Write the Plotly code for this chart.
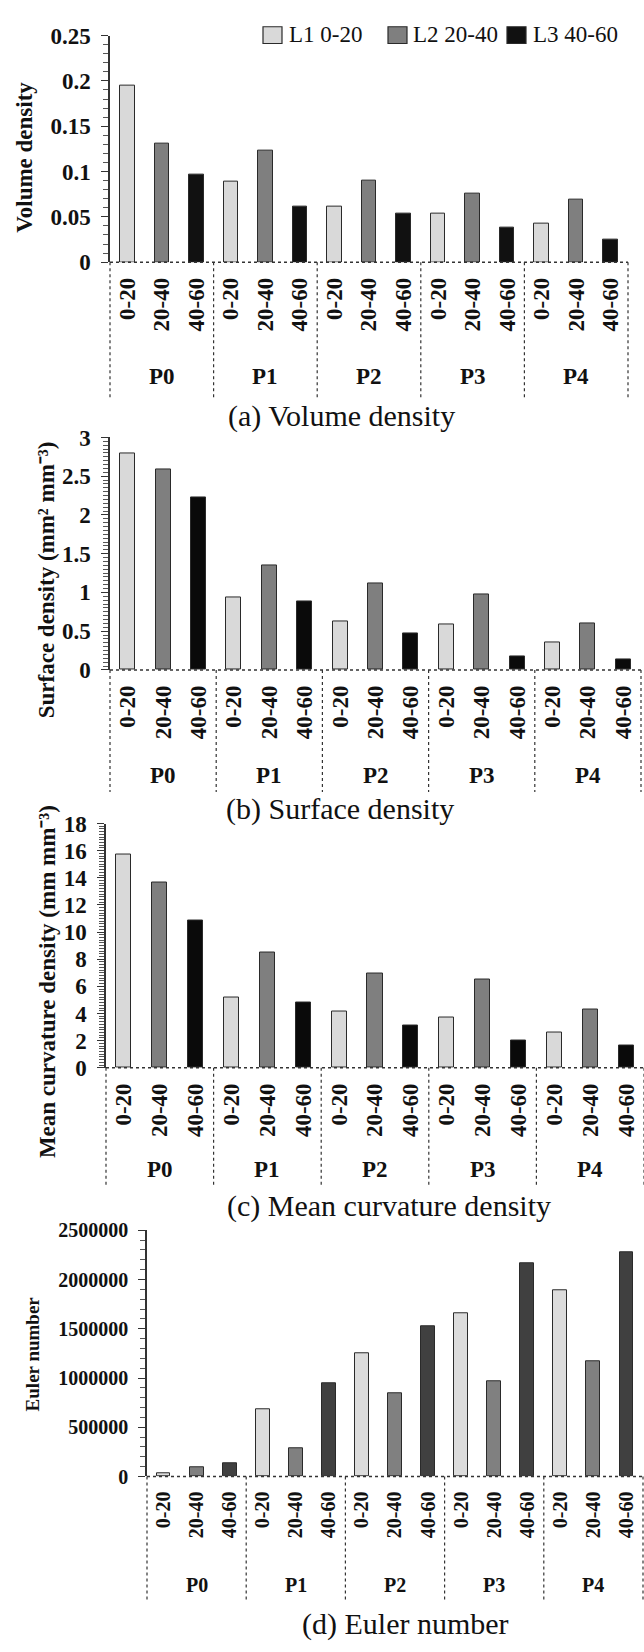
import plotly.graph_objects as go

W, H = 644, 1652
FONT = "Liberation Serif, Times New Roman, serif"

# ---------------- data ----------------
groups = ["P0", "P1", "P2", "P3", "P4"]
depths = ["0-20", "20-40", "40-60"]
series_names = ["L1 0-20", "L2 20-40", "L3 40-60"]

vol_L1 = [0.195, 0.089, 0.061, 0.054, 0.042]
vol_L2 = [0.131, 0.123, 0.090, 0.076, 0.069]
vol_L3 = [0.097, 0.061, 0.054, 0.038, 0.025]

surf_L1 = [2.80, 0.94, 0.63, 0.58, 0.36]
surf_L2 = [2.59, 1.35, 1.12, 0.98, 0.60]
surf_L3 = [2.23, 0.88, 0.47, 0.17, 0.13]

curv_L1 = [15.70, 5.15, 4.14, 3.67, 2.63]
curv_L2 = [13.68, 8.50, 6.92, 6.47, 4.32]
curv_L3 = [10.82, 4.84, 3.12, 2.03, 1.67]

euler_L1 = [30000, 680000, 1250000, 1655000, 1895000]
euler_L2 = [95000, 290000, 843000, 970000, 1172000]
euler_L3 = [130000, 945000, 1525000, 2168000, 2275000]

captions = ["(a) Volume density", "(b) Surface density",
            "(c) Mean curvature density", "(d) Euler number"]
ytitles = ["Volume density",
           "Surface density (mm\u00b2 mm\u207b\u00b3)",
           "Mean curvature density (mm mm\u207b\u00b3)",
           "Euler number"]

# ---------------- layout (pixel geometry / styles) ----------------
def fx(x):
    return x / W

def fy(y):
    return 1 - y / H

panels = [
    dict(series=[vol_L1, vol_L2, vol_L3], x0=110, x1=628, ytop=24, yzero=254,
         ymax=0.25, dtick=0.05, minor=0.01, fmt="", sepbot=393, plab=370,
         cap=(342, 410), ttl=(25, 148), fs=23, tfs=23,
         colors=["#d9d9d9", "#7f7f7f", "#111111"]),
    dict(series=[surf_L1, surf_L2, surf_L3], x0=110, x1=641, ytop=432, yzero=668,
         ymax=3, dtick=0.5, minor=0.05, fmt="", sepbot=792, plab=775,
         cap=(340, 809), ttl=(46, 577), fs=23, tfs=23,
         colors=["#d9d9d9", "#7f7f7f", "#0a0a0a"]),
    dict(series=[curv_L1, curv_L2, curv_L3], x0=106, x1=644, ytop=824, yzero=1072,
         ymax=18, dtick=2, minor=0.2, fmt="", sepbot=1193, plab=1175,
         cap=(389, 1212), ttl=(47, 985), fs=23, tfs=23,
         colors=["#d9d9d9", "#7f7f7f", "#0a0a0a"]),
    dict(series=[euler_L1, euler_L2, euler_L3], x0=147, x1=643, ytop=1237, yzero=1487,
         ymax=2500000, dtick=500000, minor=100000, fmt="d", sepbot=1615, plab=1597,
         cap=(405, 1637), ttl=(32, 1362), fs=20, tfs=19,
         colors=["#dcdcdc", "#808080", "#404040"]),
]

fig = go.Figure()
layout = dict(width=W, height=H, margin=dict(l=0, r=0, t=0, b=0),
              plot_bgcolor="white", paper_bgcolor="white", showlegend=False,
              font=dict(family=FONT, color="#000"), bargap=0)
shapes = []
annotations = []

tickvals = list(range(len(groups) * len(depths)))
ticktext = [d for _ in groups for d in depths]

for i, p in enumerate(panels):
    n = i + 1
    xa = "x" if n == 1 else f"x{n}"
    ya = "y" if n == 1 else f"y{n}"
    xkey = "xaxis" if n == 1 else f"xaxis{n}"
    ykey = "yaxis" if n == 1 else f"yaxis{n}"
    for k, vals in enumerate(p["series"]):
        xs = [g * len(depths) + k for g in range(len(groups))]
        fig.add_trace(go.Bar(
            x=xs, y=vals, name=series_names[k], width=0.42,
            marker=dict(color=p["colors"][k], line=dict(color="#2a2a2a", width=1)),
            xaxis=xa, yaxis=ya, showlegend=False))
    layout[xkey] = dict(
        domain=[fx(p["x0"]), fx(p["x1"])], anchor=ya,
        range=[-0.5, len(tickvals) - 0.5], showline=False, showgrid=False,
        zeroline=False, ticks="", tickmode="array", tickvals=tickvals,
        ticktext=ticktext, tickangle=-90, ticklabelstandoff=10,
        tickfont=dict(family=FONT, size=p["fs"], weight="bold", color="#111"))
    layout[ykey] = dict(
        domain=[fy(p["yzero"]), fy(p["ytop"])], anchor=xa,
        range=[0, p["ymax"]], dtick=p["dtick"], tick0=0, tickformat=p["fmt"],
        showline=True, linecolor="#333", linewidth=1.5, showgrid=False,
        zeroline=False, ticks="outside", ticklen=7, tickwidth=1.2,
        tickcolor="#333", ticklabelstandoff=6,
        minor=dict(dtick=p["minor"], tick0=0, ticks="outside", ticklen=5,
                   tickwidth=1, tickcolor="#555"),
        tickfont=dict(family=FONT, size=p["fs"], weight="bold", color="#111"))
    # dotted baseline
    shapes.append(dict(type="line", xref=f"{xa} domain", yref=f"{ya} domain",
                       x0=0, x1=1, y0=0, y1=0,
                       line=dict(color="#333", width=1.5, dash="dot")))
    # dotted group separators
    ybot = -(p["sepbot"] - p["yzero"]) / (p["yzero"] - p["ytop"])
    for g in range(len(groups) + 1):
        shapes.append(dict(type="line", xref=f"{xa} domain", yref=f"{ya} domain",
                           x0=g / len(groups), x1=g / len(groups), y0=0, y1=ybot,
                           line=dict(color="#333", width=1.2, dash="dot")))
    # group labels
    for g, name in enumerate(groups):
        annotations.append(dict(x=g * len(depths) + 1, xref=xa, y=fy(p["plab"]),
                                yref="paper", text=name, showarrow=False,
                                xanchor="center", yanchor="middle",
                                font=dict(family=FONT, size=p["fs"], weight="bold",
                                          color="#111")))
    # caption
    annotations.append(dict(x=fx(p["cap"][0]), y=fy(p["cap"][1]), xref="paper",
                            yref="paper", text=captions[i], showarrow=False,
                            xanchor="center", yanchor="middle",
                            font=dict(family=FONT, size=30, color="#111")))
    # y title
    annotations.append(dict(x=fx(p["ttl"][0]), y=fy(p["ttl"][1]), xref="paper",
                            yref="paper", text=ytitles[i], showarrow=False,
                            textangle=-90, xanchor="center", yanchor="middle",
                            font=dict(family=FONT, size=p["tfs"], weight="bold",
                                      color="#111")))

# legend (top right)
leg_colors = panels[0]["colors"]
leg_sq = [(263, 282), (388, 407), (507, 526)]
leg_tx = [287, 411, 531]
for k in range(3):
    shapes.append(dict(type="rect", xref="paper", yref="paper",
                       x0=fx(leg_sq[k][0]), x1=fx(leg_sq[k][1]), y0=fy(32), y1=fy(15),
                       fillcolor=leg_colors[k], line=dict(color="#2a2a2a", width=1.2)))
    annotations.append(dict(x=fx(leg_tx[k]), y=fy(23), xref="paper", yref="paper",
                            text=series_names[k], showarrow=False, xanchor="left",
                            yanchor="middle",
                            font=dict(family=FONT, size=23, color="#111")))

layout["shapes"] = shapes
layout["annotations"] = annotations
fig.update_layout(**layout)
fig.write_html("out.html", config={"displayModeBar": False},
               post_script="document.body.style.margin='0px';"
                           "document.body.style.overflow='hidden';")
